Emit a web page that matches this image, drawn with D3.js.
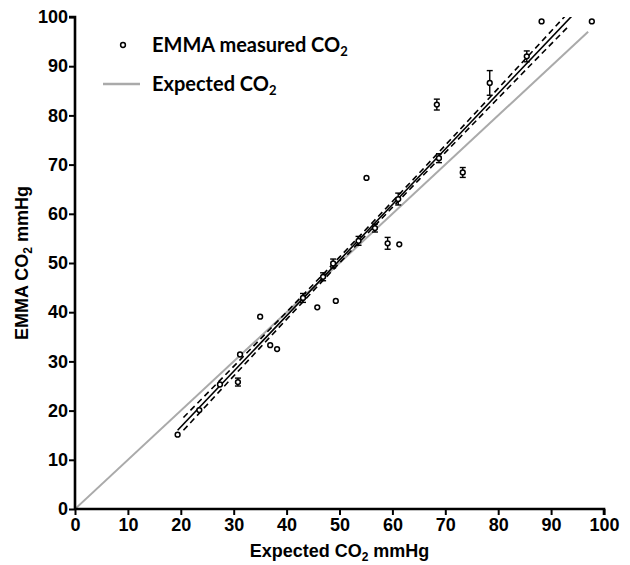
<!DOCTYPE html>
<html>
<head>
<meta charset="utf-8">
<script src="https://cdn.jsdelivr.net/npm/d3@7"></script>
<style>
  body { margin: 0; background: #fff; }
</style>
</head>
<body>
<svg id="chart" width="630" height="565"></svg>
<script>
// Data
const expected = [19.4, 23.5, 27.4, 30.8, 31.2, 35.0, 36.9, 38.2, 43.1, 45.8, 46.9, 49.3, 48.8, 53.6, 55.1, 56.7, 59.1, 61.3, 61.1, 68.4, 68.8, 73.3, 78.4, 85.4, 88.2, 97.7];
const measured = [15.1, 20.1, 25.3, 25.8, 31.4, 39.1, 33.3, 32.5, 42.9, 41.0, 47.2, 42.3, 49.9, 54.5, 67.3, 57.1, 54.0, 53.8, 63.0, 82.2, 71.3, 68.4, 86.6, 92.0, 99.1, 99.1];
const errBar  = [0, 0, 0, 0.5, 0, 0, 0, 0, 0.6, 0, 0.5, 0, 0.6, 0.6, 0, 0.5, 0.9, 0, 0.9, 0.8, 0.6, 0.7, 2.2, 0.8, 0, 0];

// regression line and its confidence band
const fitX = [19.4, 98];
const fitY = [16.0, 104.8];
const bandX = [20.5, 35, 50, 65, 80, 93];
const bandUpper = [18.6, 34.5, 51.2, 68.2, 85.5, 100.6];
const bandLower = [16.0, 32.8, 50.0, 66.9, 83.5, 97.8];

const identityX = [0, 97];

const xTicks = [0, 10, 20, 30, 40, 50, 60, 70, 80, 90, 100];
const yTicks = [0, 10, 20, 30, 40, 50, 60, 70, 80, 90, 100];

const margin = { top: 17, right: 26, bottom: 56, left: 75 };
const width = 630, height = 565;
const axisFont = '"Liberation Sans", Arial, sans-serif';
const legFont = 'Lato, "Open Sans", sans-serif';

const svg = d3.select('#chart');

const x = d3.scaleLinear().domain([0, 100]).range([margin.left, width - margin.right]);
const y = d3.scaleLinear().domain([0, 100]).range([height - margin.bottom, margin.top]);

svg.append('clipPath').attr('id', 'plot')
  .append('rect')
  .attr('x', x(0)).attr('y', y(100))
  .attr('width', x(100) - x(0)).attr('height', y(0) - y(100));

const plot = svg.append('g').attr('clip-path', 'url(#plot)');

// identity line
plot.append('line')
  .attr('x1', x(identityX[0])).attr('y1', y(identityX[0]))
  .attr('x2', x(identityX[1])).attr('y2', y(identityX[1]))
  .attr('stroke', '#aaaaaa').attr('stroke-width', 2);

// fit line
plot.append('line')
  .attr('x1', x(fitX[0])).attr('y1', y(fitY[0]))
  .attr('x2', x(fitX[1])).attr('y2', y(fitY[1]))
  .attr('stroke', '#000').attr('stroke-width', 1.6);

// confidence band
const band = d3.line().curve(d3.curveMonotoneX);
[bandUpper, bandLower].forEach(b => {
  plot.append('path')
    .attr('d', band(bandX.map((v, i) => [x(v), y(b[i])])))
    .attr('fill', 'none')
    .attr('stroke', '#000')
    .attr('stroke-width', 1.6)
    .attr('stroke-dasharray', '6,4');
});

// error bars
const pts = expected.map((v, i) => ({ x: v, y: measured[i], e: errBar[i] }));
const eb = svg.append('g').selectAll('g')
  .data(pts.filter(d => d.e > 0))
  .enter().append('g')
  .attr('stroke', '#000').attr('stroke-width', 1.4);
eb.append('line')
  .attr('x1', d => x(d.x)).attr('x2', d => x(d.x))
  .attr('y1', d => y(d.y - d.e) + 1.5).attr('y2', d => y(d.y + d.e) - 1.5);
eb.append('line')
  .attr('x1', d => x(d.x) - 3).attr('x2', d => x(d.x) + 3)
  .attr('y1', d => y(d.y + d.e) - 1.5).attr('y2', d => y(d.y + d.e) - 1.5);
eb.append('line')
  .attr('x1', d => x(d.x) - 3).attr('x2', d => x(d.x) + 3)
  .attr('y1', d => y(d.y - d.e) + 1.5).attr('y2', d => y(d.y - d.e) + 1.5);

// points
svg.append('g').selectAll('circle')
  .data(pts)
  .enter().append('circle')
  .attr('cx', d => x(d.x))
  .attr('cy', d => y(d.y))
  .attr('r', 2.4)
  .attr('fill', '#fff')
  .attr('stroke', '#000')
  .attr('stroke-width', 1.5);

// axes
const xAxis = svg.append('g')
  .attr('transform', `translate(0,${y(0)})`)
  .call(d3.axisBottom(x).tickValues(xTicks).tickSize(6).tickPadding(3));
const yAxis = svg.append('g')
  .attr('transform', `translate(${x(0)},0)`)
  .call(d3.axisLeft(y).tickValues(yTicks).tickSize(6).tickPadding(1));

[xAxis, yAxis].forEach(a => {
  a.attr('font-family', null).attr('font-size', null);
  a.select('.domain').attr('stroke', '#000').attr('stroke-width', 2.6);
  a.selectAll('.tick line').attr('stroke', '#000').attr('stroke-width', 2);
  a.selectAll('.tick text')
    .attr('fill', '#000')
    .style('font-family', axisFont)
    .style('font-weight', 'bold')
    .style('font-size', '18px');
});
xAxis.select('.domain').attr('d', `M${x(0)},0H${x(100)}V6`);
yAxis.select('.domain').attr('d', `M0,${y(0)}V${y(100)}H-6`);

// axis titles
const xt = svg.append('text')
  .attr('x', (x(0) + x(100)) / 2)
  .attr('y', 557)
  .attr('text-anchor', 'middle')
  .style('font-family', axisFont).style('font-weight', 'bold').style('font-size', '18px');
xt.append('tspan').text('Expected CO');
xt.append('tspan').style('font-size', '12px').attr('dy', 4).text('2');
xt.append('tspan').attr('dy', -4).text(' mmHg');

const yt = svg.append('text')
  .attr('transform', `translate(28,${(y(0) + y(100)) / 2}) rotate(-90)`)
  .attr('text-anchor', 'middle')
  .style('font-family', axisFont).style('font-weight', 'bold').style('font-size', '18px');
yt.append('tspan').text('EMMA CO');
yt.append('tspan').style('font-size', '12px').attr('dy', 4).text('2');
yt.append('tspan').attr('dy', -4).text(' mmHg');

// legend
svg.append('circle')
  .attr('cx', 123).attr('cy', 45).attr('r', 2.4)
  .attr('fill', '#fff').attr('stroke', '#000').attr('stroke-width', 1.5);
const l1 = svg.append('text').attr('x', 152).attr('y', 52)
  .style('font-family', legFont).style('font-weight', 'bold').style('font-size', '20px');
l1.append('tspan').text('EMMA measured CO');
l1.append('tspan').style('font-size', '13px').attr('dy', 4).text('2');

svg.append('line')
  .attr('x1', 103).attr('x2', 140).attr('y1', 84).attr('y2', 84)
  .attr('stroke', '#aaaaaa').attr('stroke-width', 2.5);
const l2 = svg.append('text').attr('x', 152).attr('y', 91)
  .style('font-family', legFont).style('font-weight', 'bold').style('font-size', '20px');
l2.append('tspan').text('Expected CO');
l2.append('tspan').style('font-size', '13px').attr('dy', 4).text('2');
</script>
</body>
</html>
